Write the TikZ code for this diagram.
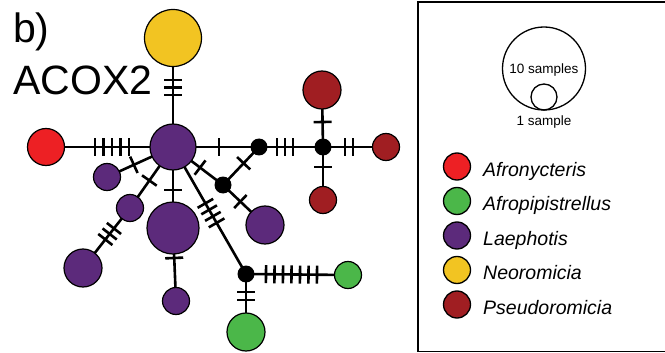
\documentclass[tikz,border=0pt]{standalone}
\usepackage{fontspec}
\setmainfont{Liberation Sans}
\usetikzlibrary{decorations.markings,backgrounds}

\definecolor{cAfro}{HTML}{ED2024}
\definecolor{cPip}{HTML}{4BB749}
\definecolor{cLae}{HTML}{5C2A7B}
\definecolor{cNeo}{HTML}{F2C422}
\definecolor{cPse}{HTML}{A01E22}

\tikzset{
  hap/.style={circle, draw=black, line width=1.2pt, inner sep=0pt, outer sep=0pt, minimum size=#1},
  junc/.style={circle, fill=black, inner sep=0pt, outer sep=0pt, minimum size=17pt},
  edge/.style={line width=2.6pt},
  tickline/.style={line width=2.6pt},
  % one mutation mark at a distance from the start of the edge
  tk/.style={postaction={decorate, decoration={markings,
      mark=at position #1 with {\draw[tickline] (0pt,-9pt) -- (0pt,9pt);}}}},
  % a run of mutation marks: from, to, spacing
  tks/.style n args={3}{postaction={decorate, decoration={markings,
      mark=between positions #1 and #2 step #3 with {\draw[tickline] (0pt,-9pt) -- (0pt,9pt);}}}},
  title/.style={font=\fontsize{41}{41}\selectfont, inner sep=0pt, anchor=base west},
  legtext/.style={font=\fontsize{19.5}{20}\selectfont\itshape, inner sep=0pt, anchor=base west},
  sizetext/.style={font=\fontsize{13.5}{14}\selectfont, inner sep=0pt},
}

\begin{document}
\begin{tikzpicture}[x=1pt, y=-1pt]
\useasboundingbox (0,0) rectangle (665,353);
\clip (0,0) rectangle (665,353);

% labels
\node[title] (lab) at (13,43) {b)};
\node[title] (gene) at (13,95) {ACOX2};

% haplotypes
\node[hap=57pt, fill=cNeo] (yel) at (173,38) {};
\node[hap=46pt, fill=cLae] (c) at (173,147) {};
\node[hap=37pt, fill=cAfro] (red) at (46,147) {};
\node[hap=27pt, fill=cLae] (pA) at (107,177) {};
\node[hap=27pt, fill=cLae] (pB) at (130,208) {};
\node[hap=38pt, fill=cLae] (pC) at (83,268) {};
\node[hap=52pt, fill=cLae] (big) at (173,228) {};
\node[hap=27pt, fill=cLae] (pD) at (176,301) {};
\node[hap=38pt, fill=cLae] (pR) at (265,225) {};
\node[hap=38pt, fill=cPse] (drT) at (322,90) {};
\node[hap=27pt, fill=cPse] (drR) at (386,147) {};
\node[hap=27pt, fill=cPse] (drB) at (323,200) {};
\node[hap=27pt, fill=cPip] (gR) at (348,275) {};
\node[hap=38pt, fill=cPip] (gB) at (246,332) {};

% median vectors
\node[junc] (b1) at (259,147) {};
\node[junc] (b2) at (323,147) {};
\node[junc] (b3) at (223,185) {};
\node[junc] (b4) at (246,274) {};

% network edges with mutation marks
\begin{pgfonlayer}{background}
\draw[edge, tks={42pt}{57.5pt}{7.5pt}] (yel.center) -- (c.center);
\draw[edge, tks={49pt}{83.5pt}{8.5pt}] (red.center) -- (c.center);
\draw[edge, tk=46pt] (c.center) -- (b1.center);
\draw[edge, tks={18pt}{34.5pt}{8pt}] (b1.center) -- (b2.center);
\draw[edge, tks={22pt}{30.5pt}{8pt}] (b2.center) -- (drR.center);
\draw[edge, tk=25pt] (b2.center) -- (drT.center);
\draw[edge, tk=20pt] (b2.center) -- (drB.center);
\draw[edge, tk=34pt] (c.center) -- (b3.center);
\draw[edge, tk=30pt] (b3.center) -- (b1.center);
\draw[edge, tk=24pt] (b3.center) -- (pR.center);
\draw[edge, tk=43pt] (c.center) -- (pA.center);
\draw[edge, tk=41pt] (c.center) -- (pB.center);
\draw[edge, tks={26pt}{40.5pt}{7pt}] (pB.center) -- (pC.center);
\draw[edge, tk=43pt] (c.center) -- (big.center);
\draw[edge, tk=30pt] (big.center) -- (pD.center);
\draw[edge, tks={65pt}{88pt}{7.5pt}] (c.center) -- (b4.center);
\draw[edge, tks={20pt}{71.5pt}{8.5pt}] (b4.center) -- (gR.center);
\draw[edge, tks={18pt}{26.5pt}{8pt}] (b4.center) -- (gB.center);
\end{pgfonlayer}

% legend
\draw[line width=1.5pt] (418,2) rectangle (667,351.5);
\node[circle, draw=black, line width=1.3pt, inner sep=0pt, minimum size=83pt] (ten) at (544,68.5) {};
\node[circle, draw=black, line width=1.3pt, inner sep=0pt, minimum size=26pt] (one) at (544,97) {};
\node[sizetext] (tenlab) at (544,70) {10 samples};
\node[sizetext] (onelab) at (544,122) {1 sample};

\node[hap=27pt, line width=1.3pt, fill=cAfro] (k1) at (457,166.5) {};
\node[hap=27pt, line width=1.3pt, fill=cPip] (k2) at (457,201) {};
\node[hap=27pt, line width=1.3pt, fill=cLae] (k3) at (457,235.5) {};
\node[hap=27pt, line width=1.3pt, fill=cNeo] (k4) at (457,270) {};
\node[hap=27pt, line width=1.3pt, fill=cPse] (k5) at (457,304.5) {};
\node[legtext] (t1) at (483,176) {Afronycteris};
\node[legtext] (t2) at (483,210.5) {Afropipistrellus};
\node[legtext] (t3) at (483,245) {Laephotis};
\node[legtext] (t4) at (483,279.5) {Neoromicia};
\node[legtext] (t5) at (483,314) {Pseudoromicia};
\end{tikzpicture}
\end{document}
